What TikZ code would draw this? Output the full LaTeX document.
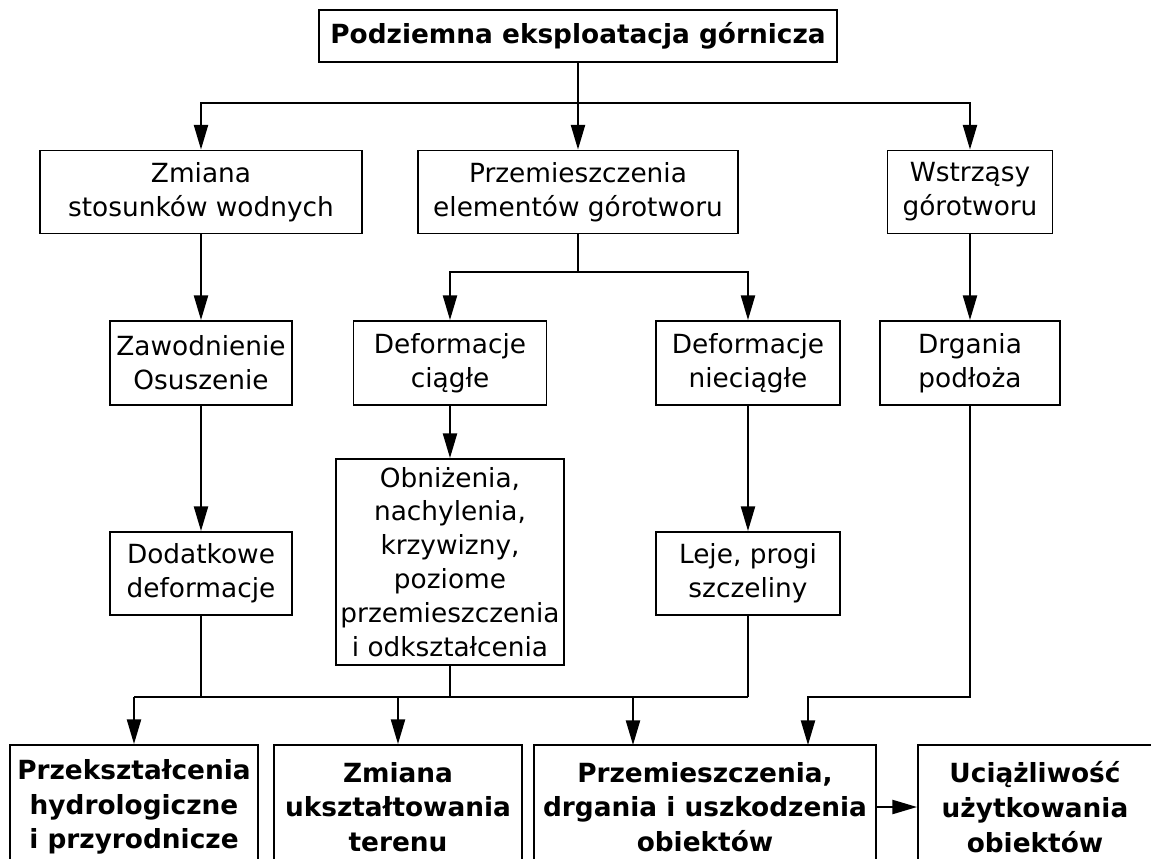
\documentclass[tikz,border=0pt]{standalone}
\usepackage{fontspec}
\setmainfont{DejaVu Sans}
\usepackage{tikz}
\usetikzlibrary{arrows.meta}
\tikzset{
    box/.style={
        draw, line width=1.1pt, align=center, inner sep=0pt,
        font=\fontsize{15}{19.3}\selectfont
    },
    boldbox/.style={
        box, font=\fontsize{15}{19.8}\selectfont\bfseries
    },
    arr/.style={
        line width=1.1pt, % same weight as the boxes
        -{Triangle[length=14pt,width=8pt]}
    },
    ln/.style={line width=1.1pt}
}

\begin{document}
\begin{tikzpicture}
\useasboundingbox (0,0) rectangle (23.02,-17.16);
\node[boldbox, minimum width=10.36cm, minimum height=1.04cm] (POD) at (11.56,-0.72) {Podziemna eksploatacja górnicza};
\node[box, minimum width=6.44cm, minimum height=1.66cm] (ZSW) at (4.02,-3.84) {Zmiana\\stosunków wodnych};
\node[box, minimum width=6.4cm, minimum height=1.66cm] (PEG) at (11.56,-3.84) {Przemieszczenia\\elementów górotworu};
\node[box, minimum width=3.3cm, minimum height=1.66cm] (WG) at (19.4,-3.84) {Wstrząsy\\górotworu};
\node[box, minimum width=3.64cm, minimum height=1.68cm] (ZO) at (4.02,-7.26) {Zawodnienie\\Osuszenie};
\node[box, minimum width=3.86cm, minimum height=1.68cm] (DC) at (9.0,-7.26) {Deformacje\\ciągłe};
\node[box, minimum width=3.68cm, minimum height=1.68cm] (DN) at (14.96,-7.26) {Deformacje\\nieciągłe};
\node[box, minimum width=3.6cm, minimum height=1.68cm] (DP) at (19.4,-7.26) {Drgania\\podłoża};
\node[box, minimum width=3.64cm, minimum height=1.66cm] (DD) at (4.02,-11.47) {Dodatkowe\\deformacje};
\node[box, minimum width=4.56cm, minimum height=4.12cm] (ON) at (9.0,-11.24) {Obniżenia,\\nachylenia,\\krzywizny,\\poziome\\przemieszczenia\\i odkształcenia};
\node[box, minimum width=3.68cm, minimum height=1.66cm] (LP) at (14.96,-11.47) {Leje, progi\\szczeliny};
\node[boldbox, minimum width=4.96cm, minimum height=2.48cm] (PHP) at (2.68,-16.14) {Przekształcenia\\hydrologiczne\\i przyrodnicze};
\node[boldbox, minimum width=4.96cm, minimum height=2.48cm] (ZUT) at (7.96,-16.14) {Zmiana\\ukształtowania\\terenu};
\node[boldbox, minimum width=6.84cm, minimum height=2.48cm] (PDU) at (14.1,-16.14) {Przemieszczenia,\\drgania i uszkodzenia\\obiektów};
\node[boldbox, minimum width=4.68cm, minimum height=2.48cm] (UUO) at (20.7,-16.14) {Uciążliwość\\użytkowania\\obiektów};
\coordinate (J1) at (11.56,-2.06);
\coordinate (J2) at (11.56,-5.44);
\coordinate (BUS) at (0,-13.94);
\coordinate (IN3) at (12.66,-14.9);
\coordinate (IN4) at (16.16,-14.9);
\draw[arr] (POD) -- (PEG);
\draw[arr] (J1) -| (ZSW);
\draw[arr] (J1) -| (WG);
\draw[arr] (ZSW) -- (ZO);
\draw[arr] (WG) -- (DP);
\draw[ln] (PEG) -- (J2);
\draw[arr] (J2) -| (DC);
\draw[arr] (J2) -| (DN);
\draw[arr] (ZO) -- (DD);
\draw[arr] (DC) -- (ON);
\draw[arr] (DN) -- (LP);
\draw[ln] (DD.south) -- (DD.south |- BUS);
\draw[ln] (ON.south) -- (ON.south |- BUS);
\draw[ln] (LP.south) -- (LP.south |- BUS);
\draw[ln] (PHP.north |- BUS) -- (LP.south |- BUS);
\draw[arr] (PHP.north |- BUS) -- (PHP.north);
\draw[arr] (ZUT.north |- BUS) -- (ZUT.north);
\draw[arr] (IN3 |- BUS) -- (IN3);
\draw[arr] (DP.south) -- (DP.south |- BUS) -- (IN4 |- BUS) -- (IN4);
\draw[arr] (PDU) -- (UUO);
\end{tikzpicture}
\end{document}
